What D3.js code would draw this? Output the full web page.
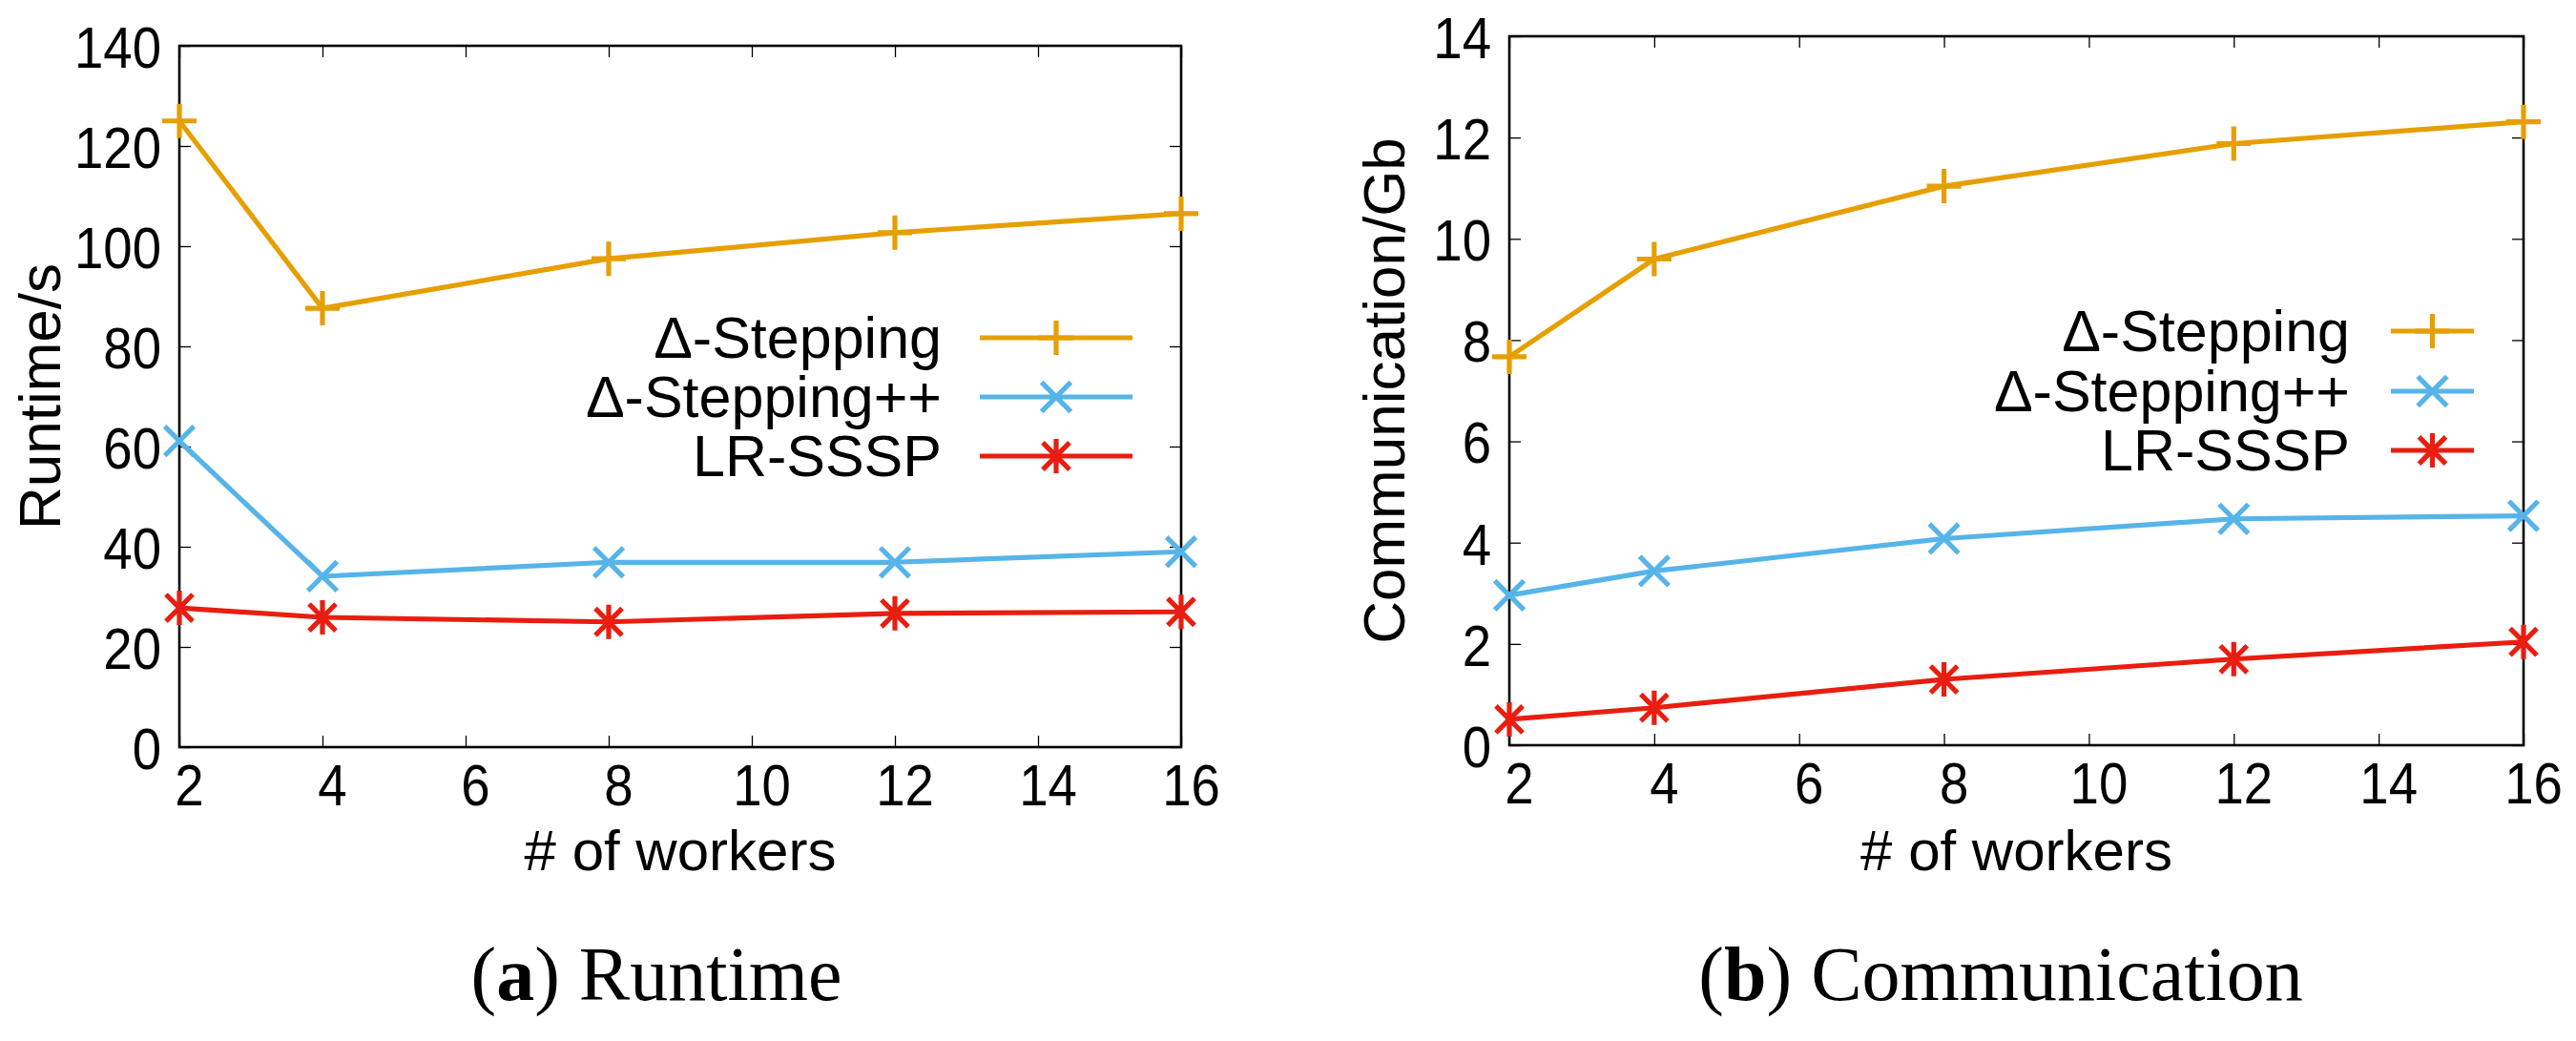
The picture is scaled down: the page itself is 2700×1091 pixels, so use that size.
<!DOCTYPE html>
<html>
<head>
<meta charset="utf-8">
<script src="https://cdn.jsdelivr.net/npm/d3@7"></script>
<style>
  body { margin: 0; background: #fff; }
  svg { display: block; }
  text { font-family: "Liberation Sans", Arial, sans-serif; fill: #000; }
  .caption { font-family: "Liberation Serif", "Times New Roman", serif; }
</style>
</head>
<body>
<div id="chart"></div>
<script>
// x values shared by both panels
const workers = [2, 4, 8, 12, 16];
const xTicks = [2, 4, 6, 8, 10, 12, 14, 16];
const seriesNames = ["\u0394-Stepping", "\u0394-Stepping++", "LR-SSSP"];

// (a) runtime in seconds
const runtimeDelta = [125, 87.6, 97.5, 102.7, 106.5];
const runtimeDeltaPP = [61.1, 34.1, 36.9, 36.9, 39.0];
const runtimeLR = [27.8, 25.9, 25.0, 26.7, 27.0];
const runtimeTicks = [0, 20, 40, 60, 80, 100, 120, 140];

// (b) communication in Gb
const commDelta = [7.67, 9.6, 11.04, 11.88, 12.31];
const commDeltaPP = [2.96, 3.44, 4.08, 4.47, 4.53];
const commLR = [0.51, 0.74, 1.30, 1.70, 2.04];
const commTicks = [0, 2, 4, 6, 8, 10, 12, 14];

const WIDTH = 2700;
const HEIGHT = 1091;
const colors = ["#E69F00", "#56B4E9", "#E81E10"];
const markerTypes = ["plus", "cross", "star"];
const TICK_SCALE = 0.88;   // gnuplot tick labels look a bit narrow

const svg = d3.select("#chart")
    .append("svg")
    .attr("width", WIDTH)
    .attr("height", HEIGHT);

svg.append("rect")
    .attr("width", WIDTH)
    .attr("height", HEIGHT)
    .attr("fill", "#fff");

// marker shapes as paths centred on 0,0
function markerPath(type, r) {
    const d = r * 0.78;
    const x = `M${-d},${-d}L${d},${d}M${-d},${d}L${d},${-d}`;
    if (type === "plus") return `M${-r},0H${r}M0,${-r}V${r}`;
    if (type === "cross") return `M${-r * 0.85},${-r * 0.85}L${r * 0.85},${r * 0.85}M${-r * 0.85},${r * 0.85}L${r * 0.85},${-r * 0.85}`;
    return `M0,${-r}V${r}` + x;
}

function drawPanel(cfg) {
    const xScale = d3.scaleLinear().domain([2, 16]).range([cfg.left, cfg.right]);
    const yScale = d3.scaleLinear().domain(cfg.yDomain).range([cfg.bottom, cfg.top]);
    const g = svg.append("g");

    // mirrored inner ticks on all four sides
    const tickLen = 12;
    g.append("g")
        .attr("transform", `translate(0,${cfg.top})`)
        .call(d3.axisBottom(xScale).tickValues(xTicks).tickSize(tickLen).tickFormat(""))
        .call(a => a.select(".domain").remove());
    g.append("g")
        .attr("transform", `translate(${cfg.right},0)`)
        .call(d3.axisLeft(yScale).tickValues(cfg.yTicks).tickSize(tickLen).tickFormat(""))
        .call(a => a.select(".domain").remove());

    const xAxis = g.append("g")
        .attr("transform", `translate(0,${cfg.bottom})`)
        .call(d3.axisTop(xScale).tickValues(xTicks).tickSize(tickLen).tickFormat(d3.format("d")))
        .call(a => a.select(".domain").remove());
    xAxis.selectAll("text")
        .attr("y", 61)
        .attr("dy", null)
        .attr("x", 10 / TICK_SCALE)
        .attr("transform", `scale(${TICK_SCALE},1)`)
        .style("font-size", "62px")
        .style("font-family", "Liberation Sans, Arial, sans-serif");

    const yAxis = g.append("g")
        .attr("transform", `translate(${cfg.left},0)`)
        .call(d3.axisRight(yScale).tickValues(cfg.yTicks).tickSize(tickLen).tickFormat(d3.format("d")))
        .call(a => a.select(".domain").remove());
    yAxis.selectAll("text")
        .attr("x", -19 / TICK_SCALE)
        .attr("dy", "0.36em")
        .attr("text-anchor", "end")
        .attr("transform", `scale(${TICK_SCALE},1)`)
        .style("font-size", "62px")
        .style("font-family", "Liberation Sans, Arial, sans-serif");

    g.selectAll(".tick line").attr("stroke", "#000").attr("stroke-width", 1.3);

    // plot border
    g.append("rect")
        .attr("x", cfg.left)
        .attr("y", cfg.top)
        .attr("width", cfg.right - cfg.left)
        .attr("height", cfg.bottom - cfg.top)
        .attr("fill", "none")
        .attr("stroke", "#000")
        .attr("stroke-width", 2.6);

    // axis titles
    g.append("text")
        .attr("transform", `translate(${cfg.yLabelX},${(cfg.top + cfg.bottom) / 2})rotate(-90)`)
        .attr("text-anchor", "middle")
        .style("font-size", "62px")
        .text(cfg.yLabel);

    g.append("text")
        .attr("x", (cfg.left + cfg.right) / 2)
        .attr("y", 912)
        .attr("text-anchor", "middle")
        .style("font-size", "60px")
        .text("# of workers");

    // series
    const line = d3.line()
        .x((d, i) => xScale(workers[i]))
        .y(d => yScale(d));

    cfg.series.forEach((values, s) => {
        g.append("path")
            .attr("d", line(values))
            .attr("fill", "none")
            .attr("stroke", colors[s])
            .attr("stroke-width", 5.2)
            .attr("stroke-linejoin", "round");

        g.selectAll(null)
            .data(values)
            .enter()
            .append("path")
            .attr("transform", (d, i) => `translate(${xScale(workers[i])},${yScale(d)})`)
            .attr("d", markerPath(markerTypes[s], 18))
            .attr("fill", "none")
            .attr("stroke", colors[s])
            .attr("stroke-width", 5.2);
    });

    // legend
    seriesNames.forEach((name, s) => {
        const y = cfg.legendRows[s];
        g.append("text")
            .attr("x", cfg.legendTextX)
            .attr("y", y + 21)
            .attr("text-anchor", "end")
            .style("font-size", "61px")
            .text(name);
        g.append("line")
            .attr("x1", cfg.legendLine[0])
            .attr("x2", cfg.legendLine[1])
            .attr("y1", y)
            .attr("y2", y)
            .attr("stroke", colors[s])
            .attr("stroke-width", 5.2);
        g.append("path")
            .attr("transform", `translate(${(cfg.legendLine[0] + cfg.legendLine[1]) / 2},${y})`)
            .attr("d", markerPath(markerTypes[s], 18))
            .attr("fill", "none")
            .attr("stroke", colors[s])
            .attr("stroke-width", 5.2);
    });

    // sub-figure caption
    const cap = g.append("text")
        .classed("caption", true)
        .attr("x", cfg.captionX)
        .attr("y", 1048)
        .attr("text-anchor", "middle")
        .style("font-size", "80px");
    cap.append("tspan").text("(");
    cap.append("tspan").style("font-weight", "bold").text(cfg.captionLetter);
    cap.append("tspan").text(") " + cfg.captionText);
}

drawPanel({
    left: 188, right: 1238, top: 48, bottom: 783,
    yDomain: [0, 140], yTicks: runtimeTicks,
    yLabel: "Runtime/s", yLabelX: 63,
    series: [runtimeDelta, runtimeDeltaPP, runtimeLR],
    legendRows: [354, 416, 478], legendTextX: 987, legendLine: [1027, 1187],
    captionX: 688, captionLetter: "a", captionText: "Runtime"
});

drawPanel({
    left: 1582, right: 2645, top: 38, bottom: 781,
    yDomain: [0, 14], yTicks: commTicks,
    yLabel: "Communication/Gb", yLabelX: 1472,
    series: [commDelta, commDeltaPP, commLR],
    legendRows: [347, 410, 472], legendTextX: 2463, legendLine: [2506, 2593],
    captionX: 2097, captionLetter: "b", captionText: "Communication"
});
</script>
</body>
</html>
